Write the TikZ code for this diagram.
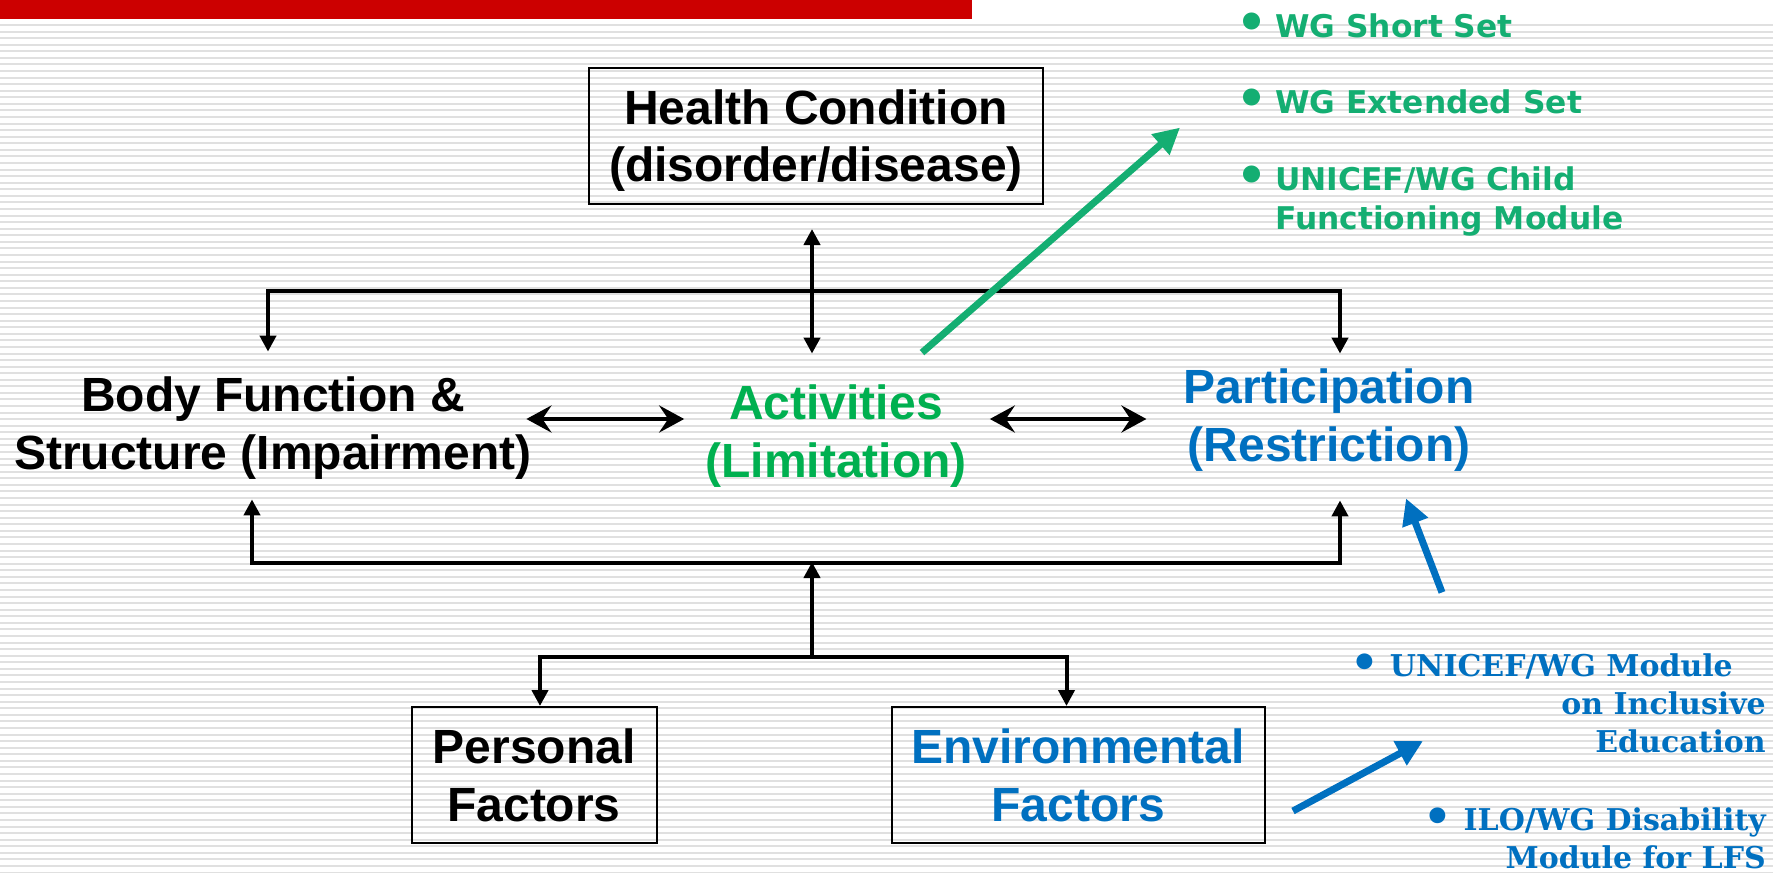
\documentclass[tikz,border=0pt]{standalone}
\usepackage{fontspec}
\setmainfont{Liberation Sans}
\newfontfamily\listfont{DejaVu Sans}
\newfontfamily\modulefont{DejaVu Serif}
\usetikzlibrary{arrows.meta}
\definecolor{header colour}{HTML}{CC0000}
\definecolor{activity colour}{HTML}{00B050}
\definecolor{list colour}{HTML}{14AE72}
\definecolor{module colour}{HTML}{0070C0}
\colorlet{stripe colour}{black!12}
\newcommand\listbullet{\raisebox{-2pt}[0pt][0pt]{\scalebox{1.55}{\textbullet}}\hspace{8pt}}
\newcommand\modulebullet{\raisebox{-2pt}[0pt][0pt]{\scalebox{1.5}{\textbullet}}\hspace{11pt}}
\tikzset{
    % Arrow tips for the connectors
    head/.tip={Triangle[length=16pt, width=16pt]},
    dart/.tip={Stealth[length=25pt, width=27pt, inset=9pt]},
    fat/.tip={Triangle[length=26pt, width=26pt]},
%
    % Define a set of styles
    % First the text
    concept/.style={font=\fontsize{48}{57.6}\selectfont\bfseries,
        align=center, inner sep=0pt, text depth=0pt},
    factor box/.style={concept, draw, line width=2pt, minimum height=136pt},
    list item/.style={font=\listfont\fontsize{31.3}{39}\selectfont\bfseries,
        text=list colour, align=left, inner sep=0pt},
    module item/.style={font=\modulefont\fontsize{30}{38}\selectfont\bfseries,
        text=module colour, align=right, inner sep=0pt},
    % Next some lines
    link/.style={line width=4pt},
    pointer/.style={line width=7pt, -fat},
    stripe/.style={draw=stripe colour, line width=2pt},
}

\begin{document}
\begin{tikzpicture}[x=1pt, y=-1pt]
\useasboundingbox (0,0) rectangle (1773,873);

% Ruled background and the red bar
\foreach \k in {0,...,129}
    \draw[stripe] (0,{25+6.57*\k}) -- (1773,{25+6.57*\k});
\fill[header colour] (0,0) rectangle (972,19);

\node (hc) [factor box, minimum width=454pt] at (816,135.5)
    {Health Condition\\(disorder/disease)};
\node (bf) [concept] at (273,423) {Body Function \&\\Structure (Impairment)};
\node (ac) [concept, text=activity colour] at (836,431) {Activities\\(Limitation)};
\node (pa) [concept, text=module colour] at (1329,415) {Participation\\(Restriction)};
\node (pf) [factor box, minimum width=245pt] at (534,775) {Personal\\Factors};
\node (ef) [factor box, minimum width=373pt, text=module colour] at (1078,775)
    {Environmental\\Factors};

\draw[link, head-head] ([shift={(-4,24.5)}]hc.south) -- ([shift={(-24,-31)}]ac.north);
\draw[link, head-head] ([shift={(-5,-25)}]bf.north) -- ++(0,-61)
    -| ([shift={(11,-15)}]pa.north);
\draw[link, dart-dart] ([shift={(-5.5,-4)}]bf.east) -- ([shift={(-21,-12)}]ac.west);
\draw[link, dart-dart] ([shift={(23,-12)}]ac.east) -- ([shift={(-37,4)}]pa.west);
\draw[link, head-head] ([shift={(-21,30)}]bf.south) -- ++(0,64)
    -| ([shift={(11,39)}]pa.south);
\draw[link, -head] (hc.south |- pf.north) ++(-4,-49) -- ++(0,-95);
\draw[link, head-head] ([xshift=6pt]pf.north) -- ++(0,-49)
    -| ([xshift=-11.5pt]ef.north);

% Question sets (base is the last line)
\node (short set) [list item, anchor=base west] at (1275,37)
    {\llap{\listbullet}WG Short Set};
\node (extended set) [list item, anchor=base west] at (1275,113)
    {\llap{\listbullet}WG Extended Set};
\node (child module) [list item, anchor=base west] at (1275,229)
    {\llap{\listbullet}UNICEF/WG Child\\Functioning Module};
\node (education module) [module item, anchor=base east] at (1766,752)
    {\llap{\modulebullet}UNICEF/WG Module\hspace*{33pt}\\on Inclusive\\Education};
\node (labour module) [module item, anchor=base east] at (1766,868)
    {\llap{\modulebullet}ILO/WG Disability\\Module for LFS};

\draw[pointer, draw=list colour, fill=list colour] ([shift={(86,-32)}]ac.north) -- ++(258,-225);
\draw[pointer, draw=module colour, fill=module colour] ([shift={(113,131)}]pa.south)
    -- ([shift={(77,37)}]pa.south);
\draw[pointer, draw=module colour, fill=module colour] ([shift={(27.5,36)}]ef.east)
    -- ++(130,-70);

\end{tikzpicture}
\end{document}
